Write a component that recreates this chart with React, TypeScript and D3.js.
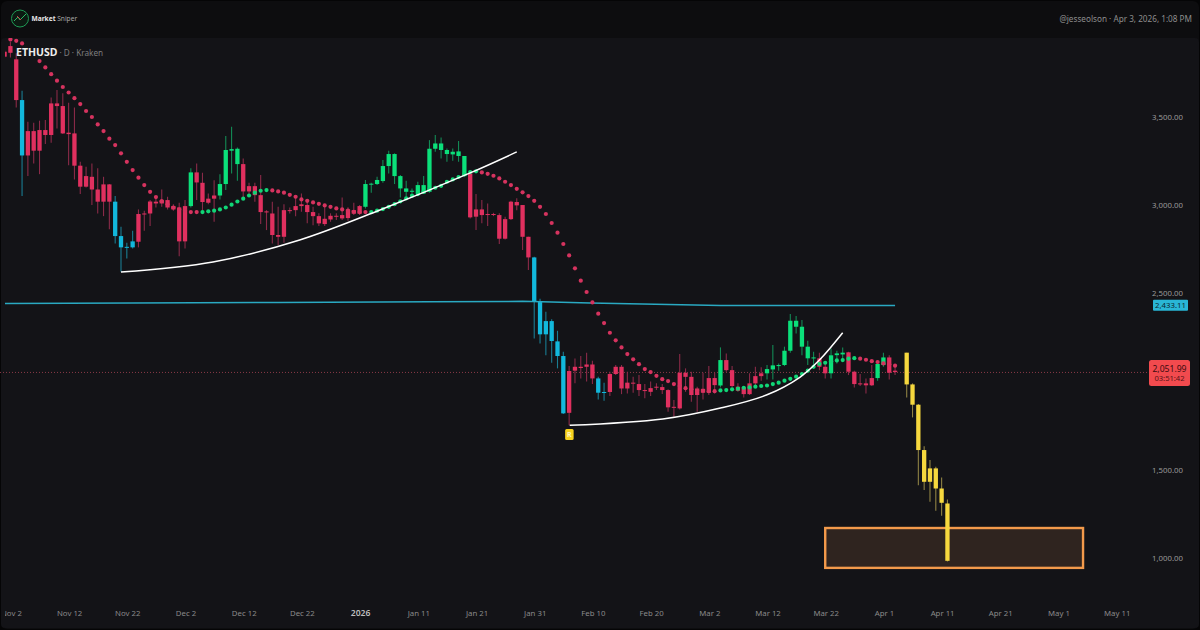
import React from "react";
import * as d3 from "d3";

const highs = [
3879,3927,3861,3649,3473,3468,3479,3483,3611,3653,
3634,3581,3554,3246,3218,3237,3209,3161,3120,3052,
2878,2787,2855,2976,2969,3029,3052,3089,3048,3006,
3014,3029,3209,3237,3184,3067,3142,3176,3392,3445,
3327,3265,3127,3127,3171,2972,3020,2991,3006,2987,
3048,3067,3029,2991,2954,2991,2954,2954,3044,2988,
3014,3001,3143,3127,3161,3256,3309,3294,3171,3139,
3095,3133,3165,3369,3398,3384,3322,3322,3364,3279,
3190,3063,3029,3010,2957,2954,2935,3025,3039,3001,
2821,2708,2470,2396,2353,2288,2169,2088,2131,2145,
2164,2118,2028,1994,2056,2094,2094,2056,2028,2037,
1986,2000,1990,1986,1956,1895,2156,2075,2056,1971,
2050,2088,2050,2194,2160,2088,1990,1975,2047,2084,
2081,2094,2207,2103,2198,2383,2372,2349,2232,2169,
2164,2103,2188,2175,2194,2169,2062,2043,2018,2094,
2118,2164,2150,2094,0,2164,1990,1873,1634,1555,
1517,1457,1332];

const bodyTops = [
3870,3902,3827,3596,3420,3420,3426,3426,3577,3577,
3562,3411,3407,3224,3165,3161,3089,3118,3118,3020,
2825,2764,2795,2950,2953,3021,3020,3029,3029,2995,
2987,2995,3186,3186,3127,3037,3055,3120,3313,3318,
3320,3233,3108,3108,3057,2965,2953,2831,2972,2972,
2995,3005,3001,2961,2938,2923,2940,2940,2944,2976,
2972,2995,3120,3122,3143,3222,3290,3290,3165,3095,
3082,3114,3114,3320,3350,3350,3313,3303,3305,3279,
3180,2976,2976,2950,2950,2944,2921,3020,3018,3001,
2821,2704,2451,2343,2343,2228,2145,2060,2084,2084,
2097,2097,2018,1941,2043,2084,2084,1994,1994,1986,
1952,1963,1971,1969,1952,1857,2050,2050,2027,1961,
1959,2020,2020,2122,2122,2065,1971,1967,1990,2031,
2047,2071,2092,2094,2175,2345,2345,2311,2198,2137,
2132,2084,2149,2160,2164,2166,2056,1990,1990,2020,
2100,2137,2137,2062,0,2164,1984,1869,1612,1508,
1508,1394,1309];

const bodyBottoms = [
3842,3864,3596,3282,3282,3309,3309,3398,3398,3562,
3407,3403,3224,3105,3105,3089,3020,3020,3020,2825,
2761,2759,2761,2793,2948,2953,3010,3010,2987,2976,
2795,2795,2995,3129,3018,3014,3037,3055,3120,3309,
3233,3078,3078,3057,2961,2959,2831,2821,2821,2969,
2972,2995,2961,2938,2897,2893,2919,2938,2925,2927,
2952,2952,2991,3120,3120,3137,3222,3165,3095,3076,
3076,3067,3067,3076,3320,3313,3290,3288,3279,3165,
2931,2935,2944,2946,2946,2810,2810,2921,2999,2821,
2704,2453,2268,2268,2230,2145,1820,1823,2062,2077,
2084,2018,1937,1937,1941,2043,1961,1961,1990,1952,
1948,1942,1967,1952,1854,1854,1848,2027,1924,1924,
1937,1937,1980,1978,2065,1975,1948,1929,1929,1990,
2031,2047,2069,2088,2094,2175,2311,2198,2132,2132,
2084,2047,2047,2150,2154,2056,1986,1984,1979,1979,
2020,2094,2050,2054,0,1984,1869,1612,1432,1432,
1394,1313,984];

const lows = [
3838,3838,3554,3052,3165,3237,3176,3347,3354,3435,
3403,3227,3146,3063,3101,3001,2953,2938,2863,2783,
2623,2698,2755,2761,2855,2882,2987,2991,2976,2969,
2711,2755,2987,3029,2969,3006,2906,3033,3086,3180,
3139,3044,3048,3020,2893,2859,2783,2774,2787,2953,
2938,2963,2897,2887,2882,2882,2906,2916,2916,2912,
2944,2944,2982,3071,3114,3127,3180,3120,3044,3048,
3067,3052,3063,3071,3303,3265,3246,3252,3246,3161,
2925,2859,2897,2882,2938,2780,2806,2916,2972,2746,
2632,2245,2216,2150,2107,2075,1816,1753,1990,2018,
2000,1986,1899,1891,1918,2037,1929,1933,1937,1918,
1905,1918,1952,1929,1829,1801,1842,1942,1886,1829,
1899,1924,1933,1967,2056,1967,1942,1910,1924,1980,
2005,2012,2012,2062,2088,2164,2273,2150,2094,2094,
2065,2018,2018,2103,2113,2037,1967,1975,1933,1975,
2005,2084,2012,2037,0,1910,1797,1413,1385,1319,
1268,1239,980];

const candleKinds = (
  "rrr" + "b" + "rrrrrrrrrrrrrrr" + "bbbb" + "rrrrrrrrr" + "g" + "rrrr" + "gggg" +
  "rrrrrrrrrrrrrrrrrrrrr" + "gggggggggggggggggg" + "rrrrrrrrrrr" + "bbbbbb" + "rrrrr" + "bb" +
  "rrrrrrrrrrrrrrrrrrr" + "g" + "rrrrrrr" + "ggggggggg" + "rr" + "ggg" + "rrrrr" + "gg" + "rr" + "-" + "yyyyyyyy"
).split("");

const dotPrices: (number | null)[] = [
null,3940,3932,3917,null,null,3817,3781,3743,3706,
3670,3639,3607,3573,3534,3500,3458,3420,3377,3341,
3294,3246,3199,3156,3114,3076,3046,3023,3006,2987,
2976,2969,2961,2961,2961,2965,2969,2976,2987,3003,
3021,3037,3055,3071,3082,3086,3084,3078,3071,3059,
3048,3033,3025,3016,3008,2999,2991,2982,2976,2969,
2963,2961,2961,2961,2969,2978,2991,3006,3022,3039,
3054,3063,3076,3090,3099,3110,3133,3146,3160,3175,
3188,3192,3186,3178,3167,3152,3133,3114,3093,3073,
3052,3025,2991,2950,2899,2844,2780,2715,2642,2572,
2508,2449,2385,2332,2277,2234,2194,2156,2126,2099,
2071,2054,2033,2014,2003,1986,1975,1963,1956,1948,
1948,1946,1946,1950,1952,1956,1960,1965,1967,1971,
1975,1978,1986,1994,2005,2016,2028,2043,2062,2084,
2100,2107,2115,2120,2122,2130,2133,2130,2124,2116,
2111,2103,2098,2090];

const dotKinds = (
  "r".repeat(34) + "g".repeat(12) + "r".repeat(17) + "g".repeat(19) + "r".repeat(41) + "g".repeat(24) + "r".repeat(7)
).split("");

const cupOne: [number, number][] = [[20,2621],[35.8,2678],[50.7,2803],[64.5,2973],[80,3183],[88,3302]];
const cupTwo: [number, number][] = [[97.1,1752],[113.1,1788],[123,1850],[130.9,1924],[136.7,2026],[140,2122],[144,2277]];
const levelLine: [number, number][] = [[0,2443],[22,2446],[47,2449],[73,2452],[89,2455],[100.6,2446],[123,2431],[153,2431]];

const targetBox = { fromDay: 141, toDay: 185.3, top: 1170, bottom: 944 };
const lastPrice = 2051.99;
const levelPrice = 2433.11;
const priceTicks = [3500, 3000, 2500, 1500, 1000];
const timeTicks: [number, string][] = [
  [1,"Nov 2"],[11,"Nov 12"],[21,"Nov 22"],[31,"Dec 2"],[41,"Dec 12"],[51,"Dec 22"],[61,"2026"],[71,"Jan 11"],
  [81,"Jan 21"],[91,"Jan 31"],[101,"Feb 10"],[111,"Feb 20"],[121,"Mar 2"],[131,"Mar 12"],[141,"Mar 22"],
  [151,"Apr 1"],[161,"Apr 11"],[171,"Apr 21"],[181,"May 1"],[191,"May 11"],
];

const x = d3.scaleLinear().domain([0, 10]).range([4.6, 62.8]);
const y = d3.scaleLinear().domain([1000, 3500]).range([558, 117]);
const curve = d3.line<[number, number]>().x(d => x(d[0])).y(d => y(d[1])).curve(d3.curveCatmullRom.alpha(0.5));
const straight = d3.line<[number, number]>().x(d => x(d[0])).y(d => y(d[1]));
const fmt = d3.format(",.2f");

const bodyColor: Record<string, string> = { r: "#E0305F", g: "#0BE07A", b: "#12B8DC", y: "#F6D83E" };
const wickColor: Record<string, string> = { r: "#8A2A48", g: "#138A55", b: "#1A7C92", y: "#8F8244" };
const dotColor: Record<string, string> = { r: "#D6335F", g: "#10D676" };
const font = "'Noto Sans', 'Open Sans', sans-serif";
const dayIndex = d3.range(candleKinds.length);

export default function App() {
  return (
    <svg width={1200} height={630} style={{ position: "fixed", left: 0, top: 0 }} fontFamily={font}>
      <defs>
        <clipPath id="plot"><rect x={5} y={38} width={1143} height={550} /></clipPath>
        <clipPath id="plot2"><rect x={5} y={600} width={1190} height={25} /></clipPath>
      </defs>
      <rect width={1200} height={630} fill="#050506" />
      <rect x={1} y={1} width={1198} height={628} rx={6} fill="#0D0D0F" />
      <rect x={1} y={38} width={1198} height={590} rx={4} fill="#131317" />

      {/* header */}
      <circle cx={20} cy={18.5} r={8.5} fill="#0c1a12" stroke="#1F9A55" strokeWidth={1} />
      <path d="M14 21 L18 17 L20 20 L26 14" fill="none" stroke="#2FCB6E" strokeWidth={0.9} />
      <path d="M17 16 L21 20" fill="none" stroke="#D83A4A" strokeWidth={0.9} />
      <text x={31.5} y={21} fontSize={6.6} fill="#E8E8E8" fontWeight={700}>Market <tspan fill="#A8A8A8" fontWeight={400}>Sniper</tspan></text>
      <text x={1192} y={21.5} fontSize={8.2} fill="#8E8E8E" textAnchor="end">@jesseolson  ·  Apr 3, 2026, 1:08 PM</text>

      <line x1={0} x2={1148} y1={y(lastPrice)} y2={y(lastPrice)} stroke="#8A3A48" strokeWidth={1} strokeDasharray="1 2" />

      <g clipPath="url(#plot)">
        <rect x={x(targetBox.fromDay)} y={y(targetBox.top)} width={x(targetBox.toDay) - x(targetBox.fromDay)} height={y(targetBox.bottom) - y(targetBox.top)} fill="#2F241F" stroke="#F39A4B" strokeWidth={2.4} />
        {dayIndex.filter(i => candleKinds[i] !== "-").map(i => {
          const k = candleKinds[i];
          const cx = x(i);
          const top = y(bodyTops[i]);
          const h = Math.max(1, y(bodyBottoms[i]) - top);
          return (
            <g key={i}>
              <line x1={cx} x2={cx} y1={y(highs[i])} y2={y(lows[i])} stroke={wickColor[k]} strokeWidth={1.1} />
              <rect x={cx - 2.15} y={top} width={4.3} height={h} fill={bodyColor[k]} />
            </g>
          );
        })}
        <path d={straight(levelLine) ?? ""} fill="none" stroke="#2AA9C2" strokeWidth={1.5} />
        {dotPrices.map((p, i) => p === null ? null : (
          <circle key={i} cx={x(i)} cy={y(p)} r={2.1} fill={dotColor[dotKinds[i]]} />
        ))}
        <path d={curve(cupOne) ?? ""} fill="none" stroke="#FFFFFF" strokeWidth={1.5} />
        <path d={curve(cupTwo) ?? ""} fill="none" stroke="#FFFFFF" strokeWidth={1.5} />
      </g>

      {/* R marker */}
      <rect x={x(97) - 4} y={429} width={8.5} height={11} rx={1.5} fill="#F7D21E" />
      <text x={x(97) + 0.2} y={437.2} fontSize={7} textAnchor="middle" fill="#FFF6C0" fontWeight={700}>R</text>

      {/* legend */}
      <text x={16} y={55.5} fontSize={10.5} fontWeight={700} fill="#EDEDED">ETHUSD<tspan fontWeight={400} fontSize={8.2} fill="#7E7E7E" dx={2}>· D · Kraken</tspan></text>

      {/* axes */}
      {priceTicks.map(p => (
        <text key={p} x={1152} y={y(p) + 3} fontSize={7.8} fill="#9A9A9A">{fmt(p)}</text>
      ))}
      <rect x={1153} y={y(levelPrice) - 5.5} width={35} height={11} rx={1} fill="#29B6D6" />
      <text x={1170.5} y={y(levelPrice) + 3} fontSize={7.8} textAnchor="middle" fill="#0B2A33">{fmt(levelPrice)}</text>
      <rect x={1149} y={360} width={41} height={26} rx={2.5} fill="#F24A4E" />
      <text x={1169.5} y={371.5} fontSize={8.6} textAnchor="middle" fill="#3C0A0E">{fmt(lastPrice)}</text>
      <text x={1169.5} y={381} fontSize={7.6} textAnchor="middle" fill="#5A1418">03:51:42</text>

      <g clipPath="url(#plot2)">
        {timeTicks.map(([d, label]) => (
          <text key={label} x={x(d) + 1} y={616} fontSize={label === "2026" ? 8.6 : 7.8} fontWeight={label === "2026" ? 600 : 400} textAnchor="middle" fill={label === "2026" ? "#BDBDBD" : "#8A8A8A"}>{label}</text>
        ))}
      </g>
    </svg>
  );
}
